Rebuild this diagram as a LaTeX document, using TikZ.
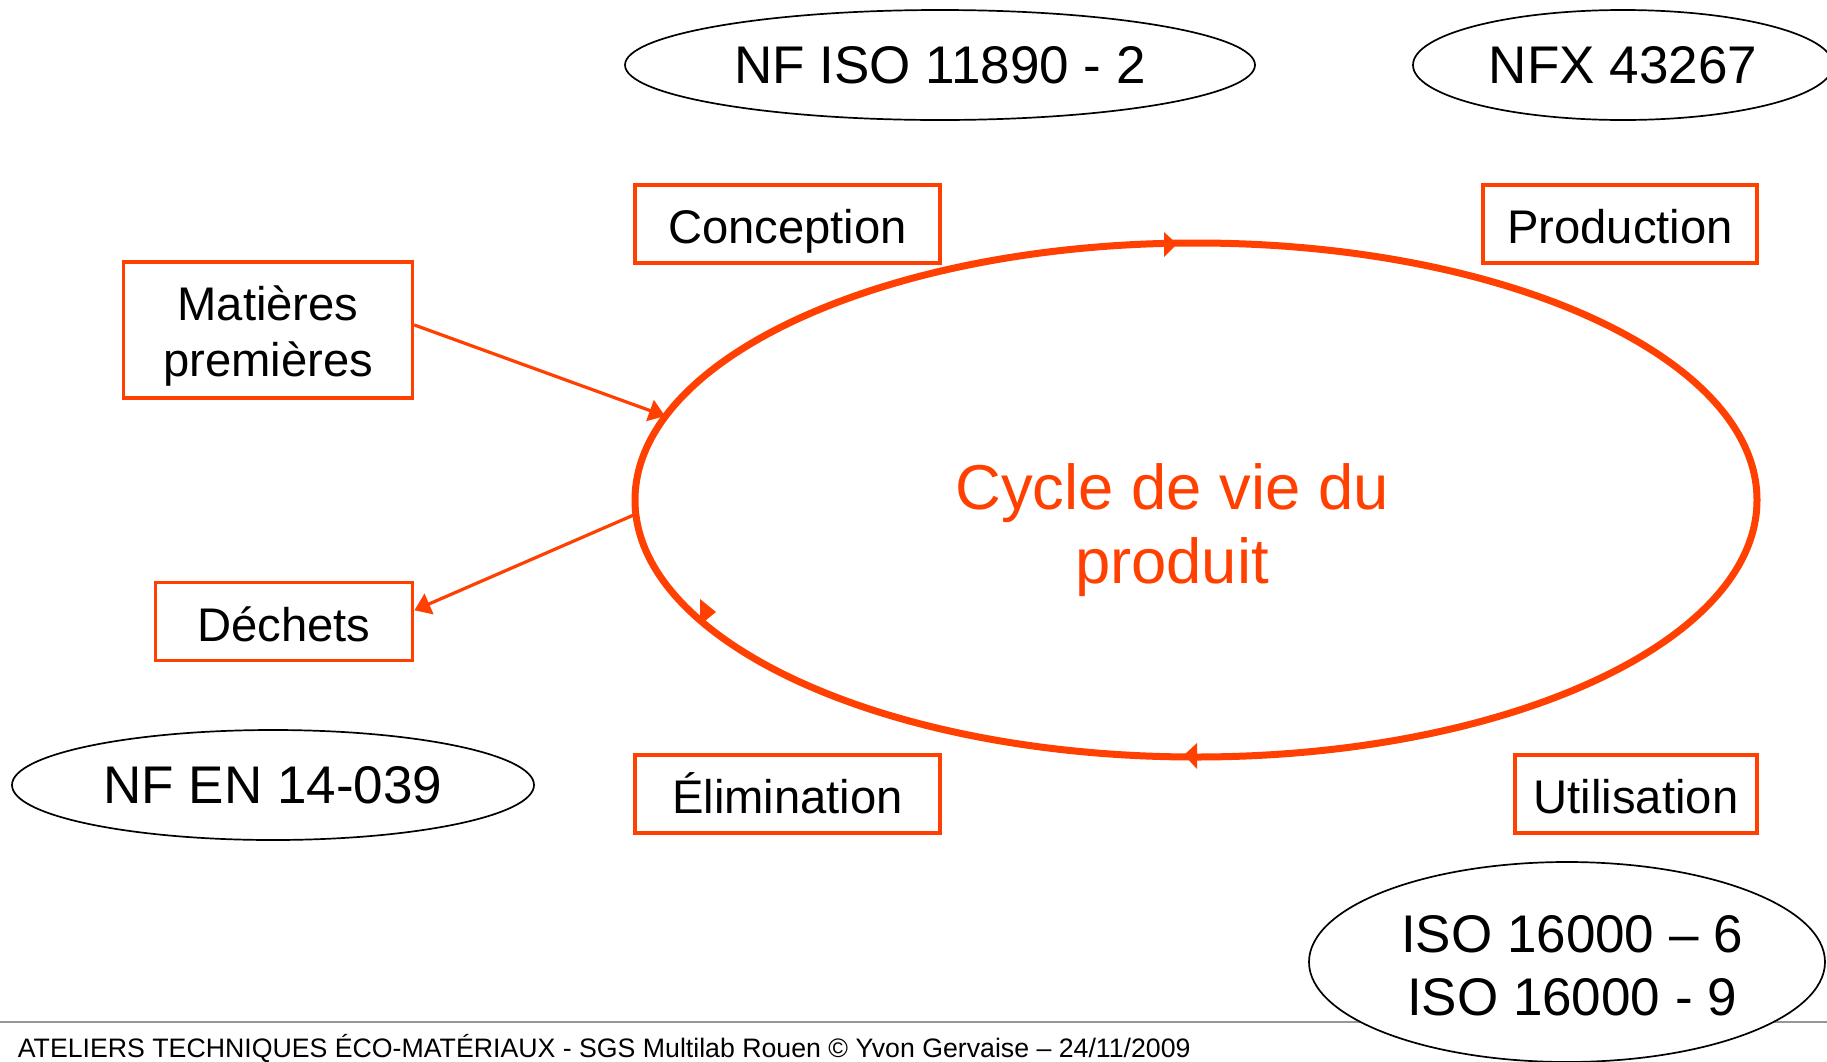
\documentclass[tikz,border=0pt]{standalone}
\usepackage{fontspec}
\setmainfont{Liberation Sans}
\usetikzlibrary{shapes.geometric,arrows.meta,calc}
\definecolor{ored}{RGB}{255,64,0}
\definecolor{footgray}{RGB}{150,150,150}
\begin{document}
\begin{tikzpicture}[x=0.5pt,y=-0.5pt,
  redbox/.style={draw=ored, line width=1.65pt, minimum height=39pt, inner sep=0pt,
    font=\fontsize{23.6}{28}\selectfont, align=center, text height=19.5pt, text depth=0pt},
  stdell/.style={ellipse, draw=black, line width=0.85pt, fill=white, inner sep=0pt,
    font=\fontsize{26.5}{31.5}\selectfont, align=center},
  stdtext/.style={inner sep=0pt, font=\fontsize{26.5}{31.5}\selectfont, align=center},
  redarrow/.style={draw=ored, line width=1.6pt, -{Triangle[length=8pt,width=11pt]}},
  redtip/.style={fill=ored}
]
\useasboundingbox (0,0) rectangle (1827,1061);
% footer rule
\coordinate (fl) at (0,1022);
\coordinate (fr) at (1827,1022);
\draw[footgray, line width=1.35pt] (fl) -- (fr);
% standards ellipses
\node[stdell, minimum width=315pt, minimum height=55pt] (iso1) at (940,65) {NF ISO 11890 - 2};
\node[stdell, minimum width=210pt, minimum height=55pt] (nfx) at (1623,65) {NFX 43267};
\node[stdell, minimum width=261pt, minimum height=55pt] (nfen) at (273,785) {NF EN 14-039};
\node[stdell, minimum width=258pt, minimum height=100pt] (iso16) at (1567,962) {};
\node[stdtext] (iso16t) at (1572,966) {ISO 16000 – 6\\ISO 16000 - 9};
% red boxes
\node[redbox, minimum width=152.5pt] (conc) at (787.5,224) {Conception};
\node[redbox, minimum width=137pt] (prod) at (1620,224) {Production};
\node[redbox, minimum width=144.5pt, minimum height=68pt, text height=46.7pt, text depth=0pt] (mat) at (268,330) {Matières\\premières};
\node[redbox, minimum width=128.75pt] (dech) at (284,621.7) {Déchets};
\node[redbox, minimum width=152.5pt] (elim) at (787.5,794) {Élimination};
\node[redbox, minimum width=121pt] (util) at (1636,794) {Utilisation};
% life cycle ellipse
\node[ellipse, draw=ored, line width=3.5pt, minimum width=561pt, minimum height=257pt, inner sep=0pt] (cycle) at (1196,500) {};
\node[text=ored, font=\fontsize{31.7}{36.7}\selectfont, align=center] (cyclab) at (1172,530) {Cycle de vie du\\produit};
\fill[redtip] (1164,232) -- (1177,244) -- (1164,257) -- cycle;
\fill[redtip] (1184,755) -- (1197,743) -- (1197,769) -- cycle;
\fill[redtip] (700,599) -- (716,612) -- (700,625) -- cycle;
% connectors
\draw[redarrow] (mat.2) -- ($(cycle.center)+(-531,-84)$);
\draw[redarrow] ($(cycle.center)+(-560,14)$) -- (dech.5);
% footer
\node[anchor=base west, font=\fontsize{13.35}{16}\selectfont, inner sep=0pt] (foot) at (17.5,1057) {ATELIERS TECHNIQUES ÉCO-MATÉRIAUX - SGS Multilab Rouen © Yvon Gervaise – 24/11/2009};
\end{tikzpicture}
\end{document}
